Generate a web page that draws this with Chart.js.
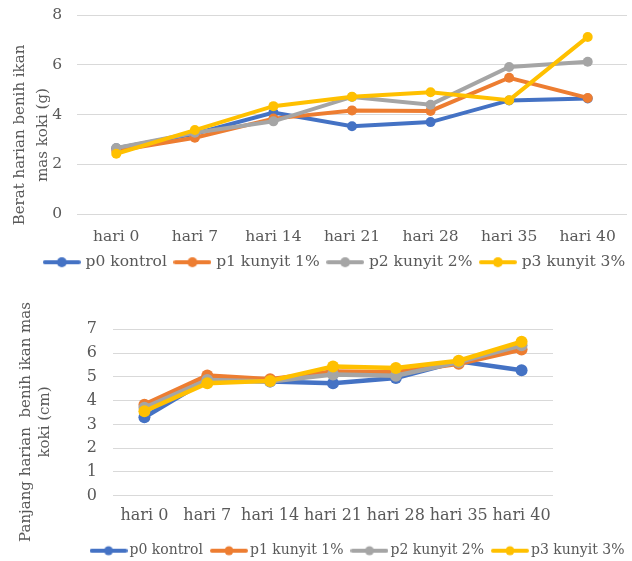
<!DOCTYPE html>
<html>
<head>
<meta charset="utf-8">
<script src="https://cdn.jsdelivr.net/npm/chart.js@4.4.1/dist/chart.umd.min.js"></script>
<style>
  html, body { margin: 0; padding: 0; background: #ffffff; overflow: hidden; width: 632px; height: 561px; }
  canvas { position: absolute; left: 0; }
  #berat { top: 0; }
  #panjang { top: 280px; }
</style>
</head>
<body>
<canvas id="berat" width="632" height="280"></canvas>
<canvas id="panjang" width="632" height="281"></canvas>
<script>
// Sampling days
const categories = ['hari 0', 'hari 7', 'hari 14', 'hari 21', 'hari 28', 'hari 35', 'hari 40'];
const seriesNames = ['p0 kontrol', 'p1 kunyit 1%', 'p2 kunyit 2%', 'p3 kunyit 3%'];

// Daily weight (g)
const beratP0 = [2.65, 3.23, 4.08, 3.53, 3.70, 4.57, 4.65];
const beratP1 = [2.55, 3.07, 3.84, 4.17, 4.15, 5.48, 4.67];
const beratP2 = [2.66, 3.27, 3.73, 4.71, 4.40, 5.91, 6.12];
const beratP3 = [2.43, 3.38, 4.34, 4.72, 4.90, 4.58, 7.12];
const beratTicks = [0, 2, 4, 6, 8];

// Daily length (cm)
const panjangP0 = [3.30, 4.88, 4.80, 4.73, 4.95, 5.65, 5.28];
const panjangP1 = [3.83, 5.06, 4.90, 5.22, 5.19, 5.55, 6.15];
const panjangP2 = [3.70, 4.87, 4.80, 5.10, 5.05, 5.62, 6.33];
const panjangP3 = [3.55, 4.73, 4.83, 5.44, 5.37, 5.68, 6.48];
const panjangTicks = [0, 1, 2, 3, 4, 5, 6, 7];

const colors = ['#4472C4', '#ED7D31', '#A5A5A5', '#FFC000'];
const textColor = '#595959';
const family = "'DejaVu Serif', serif";

Chart.defaults.font.family = family;
Chart.defaults.color = textColor;

// Legend symbol: short line with a dot in the middle
function lineMarker(color, w, h, lw, r) {
  const c = document.createElement('canvas');
  c.width = w; c.height = h;
  const g = c.getContext('2d');
  g.strokeStyle = color; g.lineWidth = lw; g.lineCap = 'round';
  g.beginPath(); g.moveTo(lw / 2, h / 2); g.lineTo(w - lw / 2, h / 2); g.stroke();
  g.fillStyle = color;
  g.beginPath(); g.arc(w / 2, h / 2, r, 0, Math.PI * 2); g.fill();
  return c;
}

// Rotated, multi-line axis title placed at a fixed centre
const sideTitle = {
  id: 'sideTitle',
  afterDraw(chart, args, opts) {
    const ctx = chart.ctx;
    ctx.save();
    ctx.font = opts.font;
    ctx.fillStyle = opts.color;
    ctx.textAlign = 'center';
    ctx.textBaseline = 'middle';
    opts.lines.forEach((t, i) => {
      ctx.save();
      ctx.translate(opts.x[i], opts.y);
      ctx.rotate(-Math.PI / 2);
      ctx.fillText(t, 0, 0);
      ctx.restore();
    });
    ctx.restore();
  }
};

function buildChart(canvasId, series, ticks, s) {
  const markers = colors.map(c => lineMarker(c, 38, 12, s.markerLine, s.markerDot));
  const datasets = series.map((vals, i) => ({
    label: seriesNames[i],
    data: vals,
    borderColor: colors[i],
    backgroundColor: colors[i],
    borderWidth: s.lineWidth,
    pointRadius: s.pointRadius,
    pointHoverRadius: s.pointRadius,
    pointBorderWidth: 0,
    tension: 0,
    order: series.length - i
  }));
  return new Chart(document.getElementById(canvasId), {
    type: 'line',
    data: { labels: categories, datasets },
    plugins: [sideTitle],
    options: {
      responsive: false,
      animation: false,
      devicePixelRatio: 1,
      layout: { padding: s.padding },
      scales: {
        x: {
          type: 'category',
          offset: true,
          grid: { display: false, drawTicks: false },
          border: { display: false },
          ticks: {
            font: { size: s.xFont, lineHeight: 1 },
            padding: s.xPad, maxRotation: 0, autoSkip: false, color: textColor
          },
          afterFit: sc => { sc.height = s.xHeight; }
        },
        y: {
          position: 'left',
          min: ticks[0],
          max: ticks[ticks.length - 1],
          afterBuildTicks: sc => { sc.ticks = ticks.map(v => ({ value: v })); },
          grid: { color: '#D9D9D9', lineWidth: 1, drawTicks: true, tickLength: s.yTick, tickColor: 'rgba(0,0,0,0)' },
          border: { display: false },
          ticks: { font: { size: s.yFont }, padding: s.yPad, color: textColor },
          afterFit: sc => { sc.width = s.yWidth; }
        },
        yR: {
          position: 'right',
          display: true,
          grid: { display: false, drawTicks: false },
          border: { display: false },
          ticks: { display: false },
          afterFit: sc => { sc.width = s.rightWidth; }
        }
      },
      plugins: {
        tooltip: { enabled: false },
        legend: {
          position: 'bottom',
          labels: {
            usePointStyle: true,
            pointStyleWidth: s.markerBox,
            padding: s.legendPad,
            font: { size: s.legendFont },
            color: textColor,
            sort: (a, b) => a.datasetIndex - b.datasetIndex,
            generateLabels: chart => {
              const items = Chart.defaults.plugins.legend.labels.generateLabels(chart);
              items.forEach(it => { it.pointStyle = markers[it.datasetIndex]; });
              return items;
            }
          }
        },
        sideTitle: {
          lines: s.titleLines,
          x: s.titleX,
          y: s.titleY,
          font: '15px ' + family,
          color: textColor
        }
      }
    }
  });
}

buildChart('berat', [beratP0, beratP1, beratP2, beratP3], beratTicks, {
  padding: { top: 15, left: 21, right: -18, bottom: 0 },
  xFont: 15.5, xPad: 15.25, xHeight: 30.75,
  yFont: 15.5, yPad: 5, yTick: 10, yWidth: 56,
  rightWidth: 21,
  legendFont: 15.5, legendPad: 9.5, markerBox: 32,
  lineWidth: 4, pointRadius: 5, markerLine: 4, markerDot: 5,
  titleLines: ['Berat harian benih ikan', 'mas koki (g)'],
  titleX: [20, 43], titleY: 135
});

buildChart('panjang', [panjangP0, panjangP1, panjangP2, panjangP3], panjangTicks, {
  padding: { top: 49.3, left: 59, right: -28, bottom: -6.7 },
  xFont: 16, xPad: 12.5, xHeight: 36,
  yFont: 16, yPad: 6, yTick: 10, yWidth: 54,
  rightWidth: 107,
  legendFont: 14, legendPad: 12, markerBox: 28,
  lineWidth: 4.5, pointRadius: 6, markerLine: 4, markerDot: 4.5,
  titleLines: ['Panjang harian  benih ikan mas', 'koki (cm)'],
  titleX: [26, 45], titleY: 142
});
</script>
</body>
</html>
